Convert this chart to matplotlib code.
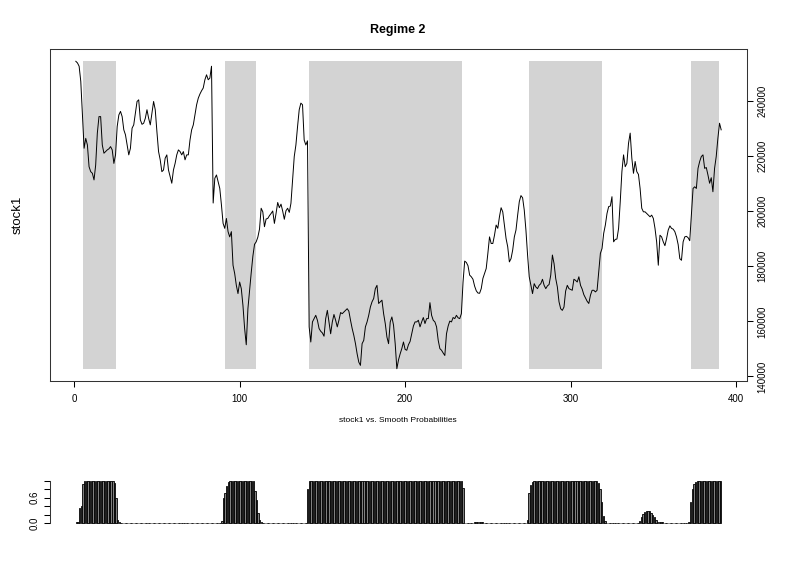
import numpy as np
import matplotlib
matplotlib.use("Agg")
import matplotlib.pyplot as plt

plt.rcParams['font.family'] = ['Liberation Sans', 'DejaVu Sans']

stock1_k = [
    254.5, 253.9, 252.7, 247.2, 235.0, 222.9, 226.5, 224.1, 216.2, 214.4,
    213.8, 211.4, 216.8, 228.4, 234.4, 234.4, 224.1, 221.1, 221.7, 222.3,
    222.7, 223.5, 222.3, 217.4, 220.5, 230.8, 235.0, 236.3, 234.4, 229.6,
    227.8, 224.1, 220.5, 222.9, 230.2, 231.4, 235.7, 239.9, 240.5, 233.2,
    231.6, 232.0, 233.8, 236.9, 233.8, 231.4, 235.7, 239.9, 236.9, 229.0,
    221.7, 218.7, 214.4, 215.0, 219.3, 220.5, 215.0, 212.6, 210.2, 215.0,
    217.4, 220.5, 222.3, 221.7, 220.5, 221.7, 218.7, 220.5, 220.5, 225.9,
    229.6, 231.4, 235.0, 238.7, 241.1, 242.6, 243.8, 244.8, 247.8, 249.6,
    247.8, 248.4, 252.7, 203.0, 212.0, 213.2, 210.8, 208.3, 202.3, 195.6,
    193.8, 197.4, 192.6, 190.7, 192.6, 180.4, 177.4, 173.1, 170.1, 174.3,
    171.9, 165.8, 157.5, 151.5, 164.6, 171.3, 177.7, 183.7, 188.0, 188.9,
    190.6, 193.5, 201.1, 199.8, 194.4, 197.2, 197.4, 198.4, 199.2, 200.1,
    195.6, 199.2, 203.2, 201.3, 202.6, 200.1, 197.1, 200.2, 201.1, 199.6,
    202.9, 211.4, 219.9, 224.1, 230.8, 236.9, 239.3, 238.7, 225.9, 224.1,
    225.6, 158.0, 152.5, 159.8, 161.0, 162.2, 160.4, 157.4, 156.4, 155.8,
    154.6, 161.0, 164.0, 159.8, 155.5, 159.8, 162.5, 160.4, 158.0, 160.4,
    163.2, 162.8, 163.4, 164.0, 164.6, 163.7, 160.4, 157.4, 154.9, 151.9,
    148.2, 145.2, 144.0, 151.9, 153.1, 158.0, 159.8, 162.2, 165.2, 167.1,
    168.3, 171.9, 173.1, 166.5, 167.1, 167.7, 162.8, 159.2, 154.3, 151.9,
    159.8, 161.6, 158.6, 151.9, 142.8, 146.0, 148.2, 150.1, 152.5, 149.8,
    149.5, 151.5, 152.7, 155.5, 158.3, 159.8, 159.8, 160.4, 158.0, 159.8,
    161.4, 159.2, 161.0, 161.0, 166.8, 162.2, 160.4, 159.8, 158.0, 153.1,
    150.1, 149.5, 148.5, 147.6, 155.5, 158.3, 160.1, 159.8, 161.4, 161.0,
    162.2, 161.3, 161.0, 162.8, 174.3, 181.9, 181.4, 180.2, 176.8, 176.2,
    175.3, 172.8, 171.1, 170.3, 170.2, 171.9, 175.6, 177.4, 179.2, 184.7,
    190.7, 188.3, 188.3, 191.3, 195.0, 193.8, 198.0, 201.3, 199.8, 195.0,
    190.1, 187.1, 181.6, 182.8, 185.9, 190.7, 193.2, 198.6, 203.5, 205.7,
    204.9, 200.4, 193.2, 184.1, 176.2, 173.1, 170.1, 173.7, 172.5, 171.9,
    173.1, 173.7, 175.3, 173.1, 171.9, 172.9, 173.4, 176.8, 184.1, 181.0,
    175.6, 172.5, 167.1, 164.6, 164.0, 165.2, 171.0, 173.1, 171.9, 171.6,
    171.3, 175.3, 174.9, 174.3, 176.2, 173.1, 171.7, 169.7, 168.5, 167.3,
    166.5, 169.5, 171.3, 171.3, 170.7, 171.3, 178.0, 184.7, 186.5, 192.0,
    195.0, 199.2, 201.7, 201.9, 205.3, 188.9, 189.8, 189.9, 193.8, 203.5,
    214.4, 220.5, 216.2, 217.4, 224.7, 228.4, 219.3, 213.8, 218.1, 214.4,
    213.4, 208.3, 201.1, 199.8, 199.8, 199.2, 198.6, 198.0, 198.6, 197.4,
    193.8, 188.9, 180.4, 191.3, 190.7, 188.9, 187.5, 190.1, 193.2, 194.7,
    193.8, 193.5, 192.6, 190.7, 187.9, 182.8, 182.2, 188.9, 190.7, 190.9,
    190.4, 189.3, 198.6, 208.3, 208.9, 208.3, 215.6, 218.1, 219.9, 220.5,
    215.6, 215.9, 213.2, 210.2, 212.2, 207.1, 215.6, 219.9, 226.5, 232.0,
    229.6,
]

# smoothed probability of regime 2, one value per observation
smooth_prob = (
    [0.02, 0.04, 0.35, 0.40, 0.93] + [1.0] * 18 + [0.95, 0.60, 0.08, 0.02]
    + [0.0] * 61
    + [0.05, 0.60, 0.70, 0.88, 0.97] + [1.0] * 15 + [0.76, 0.55, 0.25, 0.07, 0.02]
    + [0.0] * 27
    + [0.80] + [1.0] * 93 + [0.82]
    + [0.0] * 6 + [0.03] * 6 + [0.0] * 26
    + [0.08, 0.70, 0.90, 0.98] + [1.0] * 39 + [0.95, 0.80, 0.50, 0.17, 0.05, 0.01]
    + [0.0] * 3 + [0.01] * 5 + [0.0] * 11
    + [0.06, 0.15, 0.22, 0.26, 0.28, 0.29, 0.28, 0.25, 0.20, 0.14, 0.08, 0.03, 0.02, 0.02, 0.02]
    + [0.0] * 15
    + [0.03, 0.50, 0.80, 0.93, 0.98] + [1.0] * 15
)

# shaded periods (observation index)
regime_start = [5.1, 90.9, 142.2, 274.9, 372.7]
regime_end = [25.2, 109.6, 234.5, 318.8, 389.8]

x_ticks = [0, 100, 200, 300, 400]
y_ticks = [140000, 160000, 180000, 200000, 220000, 240000]
prob_ticks = [0.0, 0.2, 0.4, 0.6, 0.8, 1.0]
prob_labels = ['0.0', '', '', '0.6', '', '']


def r_range(lo, hi):
    # R's default 4% axis extension
    d = (hi - lo) * 0.04
    return lo - d, hi + d


stock1 = np.array(stock1_k) * 1000
t = np.arange(1, len(stock1) + 1)
prob = np.array(smooth_prob)

W, H = 800, 586
fig = plt.figure(figsize=(W / 100, H / 100), dpi=100)

# ---- top panel: series with shaded regime periods
ax = fig.add_axes([50 / W, 1 - 381 / H, 697 / W, 332 / H])
lo, hi = stock1.min(), stock1.max()
for s, e in zip(regime_start, regime_end):
    ax.fill_between([s, e], lo, hi, color='#d3d3d3', linewidth=0)
ax.plot(t, stock1, color='black', linewidth=0.7)
ax.set_xlim(*r_range(t.min(), t.max()))
ax.set_ylim(*r_range(lo, hi))

ax.set_xticks(x_ticks)
ax.set_xticklabels([str(v) for v in x_ticks])
ax.yaxis.tick_right()
ax.set_yticks(y_ticks)
ax.set_yticklabels([str(v) for v in y_ticks])
ax.tick_params(axis='x', length=4.3, width=0.75, pad=5, labelsize=7)
ax.tick_params(axis='y', length=4.3, width=0.75, pad=3, labelsize=7, labelrotation=90)
for lab in ax.get_yticklabels():
    lab.set_va('center')
for sp in ax.spines.values():
    sp.set_linewidth(0.75)
    sp.set_color('#333333')

fig.text(398 / W, 1 - 30 / H, 'Regime 2', ha='center', va='center',
         fontsize=9, fontweight='bold')
fig.text(18 / W, 1 - 215 / H, 'stock1', ha='center', va='center',
         rotation=90, fontsize=9.5)
fig.text(398 / W, 1 - 420 / H, 'stock1 vs. Smooth Probabilities',
         ha='center', va='center', fontsize=6)

# ---- bottom panel: barplot of smoothed probabilities
ax2 = fig.add_axes([50 / W, 1 - 525 / H, 697 / W, 46 / H])
space, width = 0.2, 1.0
bar_left = space + (width + space) * (t - 1)
ax2.bar(bar_left + width / 2, prob, width=width, color='#808080',
        edgecolor='black', linewidth=0.6)
ax2.set_xlim(*r_range(bar_left.min(), bar_left.max() + width))
ax2.set_ylim(*r_range(0, prob.max()))
ax2.set_xticks([])
ax2.set_yticks(prob_ticks)
ax2.set_yticklabels(prob_labels)
ax2.tick_params(axis='y', length=4.3, width=0.75, pad=3, labelsize=7, labelrotation=90)
for lab in ax2.get_yticklabels():
    lab.set_va('center')
for side in ['top', 'right', 'bottom']:
    ax2.spines[side].set_visible(False)
ax2.spines['left'].set_bounds(0, 1)
ax2.spines['left'].set_linewidth(0.75)
ax2.spines['left'].set_color('#333333')

fig.savefig('out.png', dpi=100)
